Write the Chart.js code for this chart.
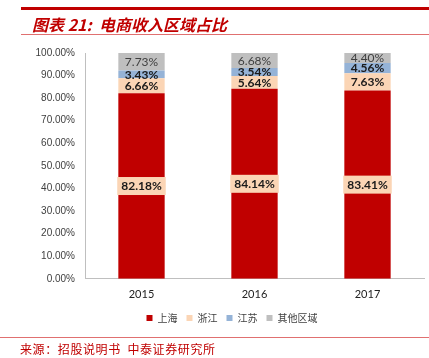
<!DOCTYPE html>
<html>
<head>
<meta charset="utf-8">
<script src="https://cdn.jsdelivr.net/npm/chart.js@4"></script>
<style>
  body { margin: 0; background: #fff; }
  #wrap { position: relative; width: 429px; height: 358px; overflow: hidden; }
  #topline { position: absolute; left: 21px; top: 7px; width: 408px; height: 3px; background: #c00000; }
  #title { position: absolute; left: 32px; top: 12px; font: italic bold 16px "Noto Sans CJK SC", sans-serif; color: #c00000; white-space: nowrap; }
  #subline { position: absolute; left: 21px; top: 34px; width: 408px; height: 1px; background: #e07070; }
  #botline { position: absolute; left: 0; top: 337px; width: 429px; height: 1px; background: #e07070; }
  #source { position: absolute; left: 20px; top: 340px; font: 12px "Noto Sans CJK SC", sans-serif; letter-spacing: 0.6px; color: #c00000; white-space: nowrap; }
  canvas { position: absolute; left: 0; top: 0; }
</style>
</head>
<body>
<div id="wrap">
  <canvas id="chart" width="429" height="358"></canvas>
  <div id="topline"></div>
  <div id="title">图表 21:&nbsp;&nbsp;电商收入区域占比</div>
  <div id="subline"></div>
  <div id="botline"></div>
  <div id="source">来源：招股说明书&nbsp;&nbsp;中泰证券研究所</div>
</div>
<script>
let years = ['2015', '2016', '2017'];
let shanghai = [82.18, 84.14, 83.41];
let zhejiang = [6.66, 5.64, 7.63];
let jiangsu = [3.43, 3.54, 4.56];
let others = [7.73, 6.68, 4.40];

// simple label plugin (no datalabels plugin available)
let labelPlugin = {
    id: 'segLabels',
    afterDatasetsDraw(chart) {
        let ctx = chart.ctx;
        chart.data.datasets.forEach(function(ds, di) {
            let meta = chart.getDatasetMeta(di);
            meta.data.forEach(function(bar, i) {
                let txt = ds.data[i].toFixed(2) + '%';
                let y = (bar.y + bar.base) / 2;
                ctx.save();
                ctx.textAlign = 'center';
                ctx.textBaseline = 'middle';
                if (di === 0) {
                    ctx.font = 'bold 12px Lato, sans-serif';
                    let w = ctx.measureText(txt).width + 8;
                    ctx.fillStyle = '#fbd5b5';
                    ctx.fillRect(bar.x - w / 2, y - 9, w, 18);
                    ctx.fillStyle = '#1a1a1a';
                } else if (di === 3) {
                    ctx.font = '12px Lato, sans-serif';
                    ctx.fillStyle = '#404040';
                } else {
                    ctx.font = 'bold 12px Lato, sans-serif';
                    ctx.fillStyle = '#1a1a1a';
                }
                ctx.fillText(txt, bar.x, y + 0.5);
                ctx.restore();
            });
        });
    }
};

// move the legend a bit right and up, like the original
let legendShift = {
    id: 'legendShift',
    afterLayout(chart) {
        let lg = chart.legend;
        lg.left += 20; lg.right += 20;
        lg.top -= 6; lg.bottom -= 6;
    }
};

let ctx = document.getElementById('chart').getContext('2d');
let chart = new Chart(ctx, {
    type: 'bar',
    data: {
        labels: years,
        datasets: [
            { label: '上海', data: shanghai, backgroundColor: '#c00000' },
            { label: '浙江', data: zhejiang, backgroundColor: '#fbd5b5' },
            { label: '江苏', data: jiangsu, backgroundColor: '#95b3d7' },
            { label: '其他区域', data: others, backgroundColor: '#bfbfbf' }
        ]
    },
    options: {
        responsive: false,
        animation: false,
        layout: { padding: { top: 53, left: 0, right: 5, bottom: 19 } },
        datasets: { bar: { categoryPercentage: 1, barPercentage: 0.41 } },
        plugins: {
            tooltip: { enabled: false },
            legend: {
                position: 'bottom',
                labels: {
                    boxWidth: 6, boxHeight: 6, padding: 9,
                    color: '#404040',
                    font: { family: '"Noto Sans CJK SC", sans-serif', size: 10 }
                }
            }
        },
        scales: {
            x: {
                stacked: true,
                grid: { display: false, drawTicks: false },
                border: { color: '#bfbfbf' },
                ticks: { color: '#222', padding: 9, font: { family: 'Lato, sans-serif', size: 11 } }
            },
            y: {
                stacked: true,
                min: 0, max: 100,
                afterFit: function(s) { s.width = 85; },
                grid: { display: false, drawTicks: false },
                border: { color: '#bfbfbf' },
                ticks: {
                    stepSize: 10, padding: 10, color: '#404040',
                    font: { family: '"Liberation Sans", sans-serif', size: 10 },
                    callback: function(v) { return v.toFixed(2) + '%'; }
                }
            }
        }
    },
    plugins: [labelPlugin, legendShift]
});
</script>
</body>
</html>
